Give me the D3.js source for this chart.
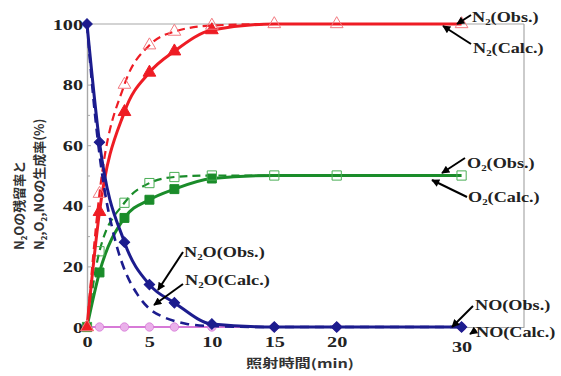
<!DOCTYPE html>
<html><head><meta charset="utf-8">
<script src="https://cdn.jsdelivr.net/npm/d3@7"></script>
<style>body{margin:0;background:#fff} svg{display:block}</style>
</head><body>
<svg id="c" width="561" height="376"></svg>
<script>
// ---- data ----
const times    = [0, 1, 3, 5, 7, 10, 15, 20, 30];
const n2oObs   = [100, 61, 28, 14, 8, 1, 0, 0, 0];
const n2oCalcT = [0, 0.5, 1, 1.5, 2, 2.5, 3, 4, 5, 6, 7, 8, 10, 15, 20, 30];
const n2oCalc  = [100, 76, 57, 43, 33, 25, 19, 11, 6, 3.5, 2, 1, 0.3, 0, 0, 0];
const n2Obs    = [0, 38, 71, 84, 91, 98, 100, 100, 100];
const n2Calc   = [0, 44, 80, 93, 97.5, 99.5, 100, 100, 100];
const o2Obs    = [0, 18, 36, 42, 45.5, 49, 50, 50, 50];
const o2Calc   = [0, 25, 41, 47.5, 49.5, 50, 50, 50, 50];
const noObs    = [0, 0, 0, 0, 0, 0, 0, 0, 0];
const xTicks   = [0, 5, 10, 15, 20, 30];
const yTicks   = [0, 20, 40, 60, 80, 100];
const yMinor   = [10, 30, 50, 70, 90];
const xTitle   = "照射時間(min)";
const yTitle1  = [["N"],["2","sub"],["Oの残留率と"]];
const yTitle2  = [["N"],["2","sub"],[",O"],["2","sub"],[",NOの生成率(%)"]];
const annLabels = {
  n2Obs:  [["N"],["2","sub"],["(Obs.)"]],
  n2Calc: [["N"],["2","sub"],["(Calc.)"]],
  o2Obs:  [["O"],["2","sub"],["(Obs.)"]],
  o2Calc: [["O"],["2","sub"],["(Calc.)"]],
  n2oObs: [["N"],["2","sub"],["O(Obs.)"]],
  n2oCalc:[["N"],["2","sub"],["O(Calc.)"]],
  noObs:  [["NO(Obs.)"]],
  noCalc: [["NO(Calc.)"]]
};

// ---- chart ----
const svg = d3.select("#c");
const x = d3.scaleLinear().domain([0, 35]).range([87, 524]);
const y = d3.scaleLinear().domain([0, 100]).range([327, 24]);
const SERIF = "'Liberation Serif','Times New Roman',serif";
const SX = 1.3;

const defs = svg.append("defs");
defs.append("marker").attr("id","ah").attr("viewBox","0 0 10 10")
  .attr("refX",9).attr("refY",5).attr("markerWidth",9).attr("markerHeight",8)
  .attr("markerUnits","userSpaceOnUse").attr("orient","auto")
  .append("path").attr("d","M0,0 L10,5 L0,10 z").attr("fill","#000");

// frame
const gray = "#a8a8a8";
svg.append("line").attr("x1",x(0)).attr("x2",x(35)).attr("y1",y(100)).attr("y2",y(100)).attr("stroke",gray).attr("stroke-width",1.2);
svg.append("line").attr("x1",x(35)).attr("x2",x(35)).attr("y1",y(100)).attr("y2",y(0)).attr("stroke",gray).attr("stroke-width",1.2);

// axes
const yAx = svg.append("g").attr("transform",`translate(${x(0)},0)`)
  .call(d3.axisLeft(y).tickValues(yTicks).tickSizeInner(-4).tickSizeOuter(0).tickPadding(0));
const yAxMin = svg.append("g").attr("transform",`translate(${x(0)},0)`)
  .call(d3.axisLeft(y).tickValues(yMinor).tickSizeInner(-3).tickSizeOuter(0).tickFormat(""));
const xAx = svg.append("g").attr("transform",`translate(0,${y(0)})`)
  .call(d3.axisBottom(x).tickValues(xTicks).tickSizeInner(-4).tickSizeOuter(0).tickPadding(0));
[yAx,yAxMin,xAx].forEach(g=>{
  g.select(".domain").attr("stroke",gray).attr("stroke-width",1.2);
  g.selectAll(".tick line").attr("stroke",gray);
});
yAx.selectAll(".tick text")
  .attr("x",0).attr("dy","0.34em")
  .attr("transform",`translate(-4,0) scale(1.35,1)`)
  .attr("font-family",SERIF).attr("font-weight","bold").attr("font-size",15).attr("fill","#222");
xAx.selectAll(".tick text")
  .attr("y",0).attr("dy",0)
  .attr("transform",d=>`translate(0,${d===30?25:20}) scale(1.35,1)`)
  .attr("font-family",SERIF).attr("font-weight","bold").attr("font-size",15).attr("fill","#222");

// rich text helper (subscripts)
function rich(sel, parts, size){
  const t = sel.append("text");
  let acc = 0;
  parts.forEach(p=>{
    const ts = t.append("tspan").text(p[0]);
    const want = p[1]==="sub" ? size*0.22 : 0;
    if(p[1]==="sub") ts.attr("font-size",size*0.6);
    ts.attr("dy", want-acc); acc = want;
  });
  return t;
}

// lines
const lineG = d3.line().x(d=>x(d[0])).y(d=>y(d[1])).curve(d3.curveMonotoneX);
const pts = (xs, ys)=> xs.map((v,i)=>[v, ys[i]]);

function series(xs, ys, color, width, dash){
  svg.append("path").attr("d", lineG(pts(xs,ys))).attr("fill","none")
    .attr("stroke",color).attr("stroke-width",width)
    .attr("stroke-dasharray",dash||null).attr("stroke-linejoin","round");
}
function markers(data, type, size, fill, stroke, rot){
  svg.append("g").selectAll("path").data(data).join("path")
    .attr("d", d3.symbol().type(type).size(size)())
    .attr("transform", d=>`translate(${x(d[0])},${y(d[1])}) rotate(${rot||0})`)
    .attr("fill",fill).attr("stroke",stroke).attr("stroke-width",1);
}

const BLUE="#1c1c8e", RED="#ee1c24", GREEN="#1a8c2a", PINK="#d77ad7";

// NO
series(times, noObs, PINK, 2);
svg.append("g").selectAll("circle").data(pts(times,noObs)).join("circle")
  .attr("cx",d=>x(d[0])).attr("cy",d=>y(d[1])).attr("r",4.2)
  .attr("fill","#eab0ea").attr("stroke",PINK).attr("stroke-width",0.8);

// O2
series(times, o2Obs, GREEN, 3);
markers(pts(times,o2Obs).filter(d=>d[0]<=10), d3.symbolSquare, 80, GREEN, GREEN);
series(times, o2Calc, GREEN, 2.2, "8,5");
markers(pts(times,o2Calc), d3.symbolSquare, 85, "none", "#4aae55");

// N2
series(times, n2Obs, RED, 3);
markers(pts(times,n2Obs).filter(d=>d[0]<=10), d3.symbolTriangle, 70, RED, RED);
series(times, n2Calc, RED, 2.2, "8,5");
markers(pts(times,n2Calc), d3.symbolTriangle, 70, "none", "#f27a80");

// N2O
series(n2oCalcT, n2oCalc, BLUE, 2.6, "9,6");
series(times, n2oObs, BLUE, 3);
markers(pts(times,n2oObs), d3.symbolSquare, 55, BLUE, BLUE, 45);

// annotations
const ann = [
  {k:"n2Obs",  tx:472, ty:22,  a:[471,15,457,24]},
  {k:"n2Calc", tx:473, ty:53,  a:[471,44,443,26]},
  {k:"o2Obs",  tx:467, ty:168, a:[465,158,442,173]},
  {k:"o2Calc", tx:468, ty:202, a:[467,197,432,180]},
  {k:"n2oObs", tx:184, ty:257, a:[183,252,158,290]},
  {k:"n2oCalc",tx:185, ty:285, a:[183,284,154,305]},
  {k:"noObs",  tx:475, ty:310, a:[473,306,452,327]},
  {k:"noCalc", tx:476, ty:337, a:[476,330,470,334]}
];
ann.forEach(o=>{
  svg.append("line").attr("x1",o.a[0]).attr("y1",o.a[1]).attr("x2",o.a[2]).attr("y2",o.a[3])
    .attr("stroke","#000").attr("stroke-width",2).attr("marker-end","url(#ah)");
  const g = svg.append("g").attr("transform",`translate(${o.tx},${o.ty}) scale(${SX},1)`)
    .attr("font-family",SERIF).attr("font-weight","bold").attr("font-size",14).attr("fill","#222");
  rich(g, annLabels[o.k], 14);
});

// axis titles
svg.append("text").attr("x",300).attr("y",368).attr("text-anchor","middle")
  .attr("font-family","'Noto Sans CJK JP',sans-serif").attr("font-weight","bold")
  .attr("font-size",12).attr("fill","#333").attr("transform",`translate(${300*(1-1.35)},0) scale(1.35,1)`)
  .text(xTitle);
const yt1 = svg.append("g").attr("transform","translate(24,250) rotate(-90)")
  .attr("font-family","'Noto Sans CJK JP',sans-serif").attr("font-weight","bold").attr("font-size",13).attr("fill","#333");
rich(yt1, yTitle1, 13);
const yt2 = svg.append("g").attr("transform","translate(44,250) rotate(-90)")
  .attr("font-family","'Noto Sans CJK JP',sans-serif").attr("font-weight","bold").attr("font-size",13).attr("fill","#333");
rich(yt2, yTitle2, 13);
</script>
</body></html>
